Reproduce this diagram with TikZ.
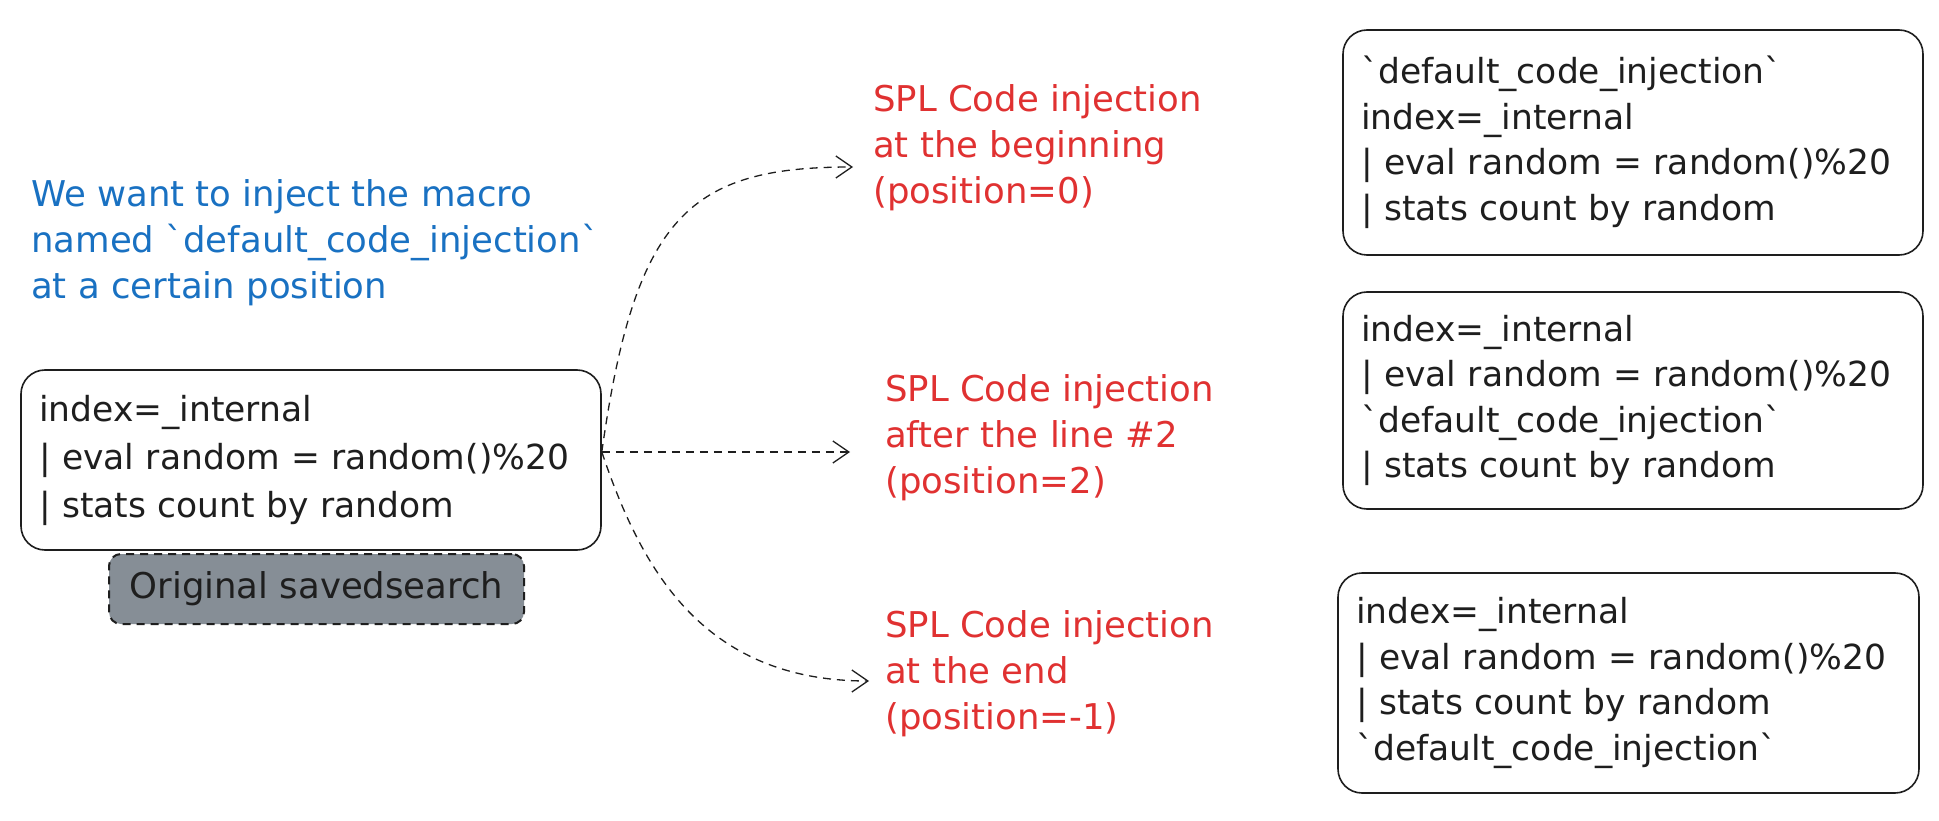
\documentclass[tikz,border=0pt]{standalone}
\usepackage{fontspec}
\setmainfont{DejaVu Sans}
\usetikzlibrary{arrows.meta}
\definecolor{exblue}{HTML}{1971C2}
\definecolor{exred}{HTML}{E03131}
\definecolor{exgrey}{HTML}{868E96}
\definecolor{exink}{HTML}{1E1E1E}
\newcommand{\bq}{\textasciigrave}
\hyphenpenalty=10000
\exhyphenpenalty=10000
\begin{document}
\begin{tikzpicture}[x=1pt,y=-1pt,
  hand/.style={font=\fontsize{35.5}{46}\selectfont},
  codebox/.style={draw=exink, line width=1.6pt, rounded corners=24pt, align=left,
    inner xsep=18pt, inner ysep=0pt, text=exink, anchor=center,
    font=\fontsize{34.5}{45.5}\selectfont},
  redlabel/.style={anchor=west, align=left, text=exred, hand, inner sep=0pt},
  conn/.style={draw=exink, line width=1.3pt, dash pattern=on 8pt off 6pt,
    -{Straight Barb[length=16pt,width=22pt,line width=1.3pt]}}
]
\fill[white] (0,0) rectangle (1939,821);
\useasboundingbox (0,0) rectangle (1939,821);

% blue note
\node[anchor=west, align=left, text=exblue, hand, inner sep=0pt] (note) at (31,243)
  {We want to inject the macro\\named \bq default\_code\_injection\bq\\at a certain position};

% original search box
\node[codebox, minimum width=580pt, minimum height=180pt, text width=544pt,
  font=\fontsize{34.5}{48}\selectfont] (orig) at (311,460)
  {index=\_internal\\| eval random = random()\%20\\| stats count by random};
\node[draw=exink, dash pattern=on 8pt off 6pt, line width=2pt, fill=exgrey,
  rounded corners=12pt, minimum width=415pt, minimum height=70pt, hand, text=exink]
  (origlabel) at (316.5,589) {Original savedsearch};

% red labels
\node[redlabel] (l1) at (873,148) {SPL Code injection\\at the beginning\\(position=0)};
\node[redlabel] (l2) at (885,438) {SPL Code injection\\after the line \#2\\(position=2)};
\node[redlabel] (l3) at (885,674) {SPL Code injection\\at the end\\(position=-1)};

% result boxes
\node[codebox, minimum width=580pt, minimum height=225pt, text width=544pt] (r1) at (1633,142.5)
  {\bq default\_code\_injection\bq\\index=\_internal\\| eval random = random()\%20\\| stats count by random};
\node[codebox, minimum width=580pt, minimum height=217pt, text width=544pt] (r2) at (1633,400.5)
  {index=\_internal\\| eval random = random()\%20\\\bq default\_code\_injection\bq\\| stats count by random};
\node[codebox, minimum width=581pt, minimum height=220pt, text width=545pt] (r3) at (1628.5,683)
  {index=\_internal\\| eval random = random()\%20\\| stats count by random\\\bq default\_code\_injection\bq};

% connectors
\coordinate (s) at ([yshift=8pt]orig.east);
\coordinate (t1) at (853,167);
\coordinate (t2) at (850,452);
\coordinate (t3) at (869,681);
\draw[conn] (s) .. controls (635,215) and (690,167) .. (t1);
\draw[conn] (s) -- (t2);
\draw[conn] (s) .. controls (640,565) and (700,681) .. (t3);
\end{tikzpicture}
\end{document}
